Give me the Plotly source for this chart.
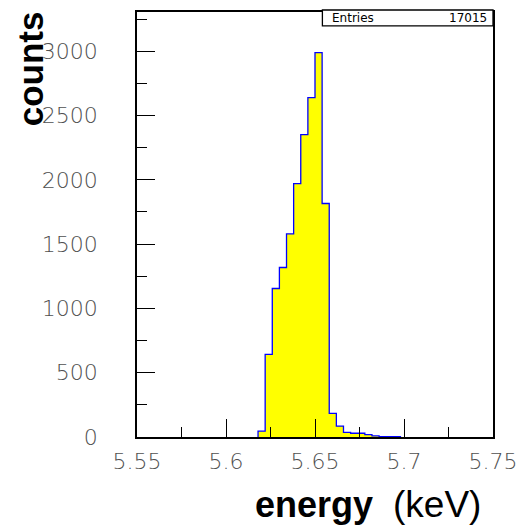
import plotly.graph_objects as go

# Histogram binning (50 bins from 5.55 to 5.75 keV)
bin_start = 5.55
bin_width = 0.004
counts = [0, 0, 0, 0, 0, 0, 0, 0, 0, 0,
          0, 0, 0, 0, 0, 0, 0, 45, 643, 1155,
          1318, 1580, 1971, 2352, 2639, 2989, 1816, 184, 85, 36,
          29, 29, 18, 8, 3, 2, 2, 0, 0, 0,
          0, 0, 0, 0, 0, 0, 0, 0, 0, 0]
entries_label = "Entries"
entries_value = "17015"
x_tickvals = [5.55, 5.6, 5.65, 5.7, 5.75]
x_ticktext = ["5.55", "5.6", "5.65", "5.7", "5.75"]
y_tickvals = [0, 500, 1000, 1500, 2000, 2500, 3000]
y_ticktext = ["0", "500", "1000", "1500", "2000", "2500", "3000"]

edges = [round(bin_start + i * bin_width, 6) for i in range(len(counts) + 1)]
nz = [i for i, c in enumerate(counts) if c > 0]
first, last = nz[0], nz[-1]
xs = [edges[first]] + edges[first:last + 1] + [edges[last + 1]]
ys = [0] + counts[first:last + 1] + [0]

fig = go.Figure()
fig.add_trace(go.Scatter(
    x=xs, y=ys, mode="lines", line=dict(shape="hv", color="#0000ff", width=1.3),
    fill="tozeroy", fillcolor="#ffff00", hoverinfo="skip", showlegend=False))

tick_font = dict(family="DejaVu Sans", size=22, color="#505050", weight=200)

fig.update_layout(
    width=527, height=529,
    margin=dict(l=137, r=29, t=10, b=92),
    paper_bgcolor="white", plot_bgcolor="white",
    showlegend=False,
    xaxis=dict(range=[5.55, 5.75], tickvals=x_tickvals, ticktext=x_ticktext,
               ticks="inside", ticklen=18, tickcolor="black", tickwidth=1,
               minor=dict(ticks="inside", ticklen=10, dtick=0.025, tick0=5.55, tickcolor="black"),
               showline=True, linecolor="black", linewidth=1.5, mirror=True,
               showgrid=False, zeroline=False, tickfont=tick_font, ticklabelstandoff=4,
               layer="above traces"),
    yaxis=dict(range=[0, 3305], tickvals=y_tickvals, ticktext=y_ticktext,
               ticks="inside", ticklen=18, tickcolor="black", tickwidth=1,
               minor=dict(ticks="inside", ticklen=10, dtick=250, tick0=0, tickcolor="black"),
               showline=True, linecolor="black", linewidth=1.5, mirror=True,
               showgrid=False, zeroline=False, tickfont=tick_font, ticklabelstandoff=33,
               layer="above traces"),
)

# Stats box
fig.add_shape(type="rect", xref="paper", yref="paper",
              x0=(325 - 137) / 361, x1=1.0, y0=(437 - 24) / 427, y1=(437 - 8) / 427,
              line=dict(color="black", width=1.3), fillcolor="white", layer="above")
fig.add_annotation(xref="paper", yref="paper", x=(333 - 137) / 361, y=(437 - 16) / 427,
                   xanchor="left", yanchor="middle", showarrow=False, text=entries_label,
                   font=dict(family="DejaVu Sans", size=12, color="black"))
fig.add_annotation(xref="paper", yref="paper", x=(494 - 137) / 361, y=(437 - 16) / 427,
                   xanchor="right", yanchor="middle", showarrow=False, text=entries_value,
                   font=dict(family="DejaVu Sans", size=12, color="black"))

# Axis titles
fig.add_annotation(xref="paper", yref="paper", x=(29 - 137) / 361, y=(437 - 67) / 427,
                   xanchor="center", yanchor="middle", showarrow=False, textangle=-90,
                   text="<b>counts</b>",
                   font=dict(family="Liberation Sans", size=35, color="black"))
fig.add_annotation(xref="paper", yref="paper", x=(255 - 137) / 361, y=(437 - 505) / 427,
                   xanchor="left", yanchor="middle", showarrow=False,
                   text="<b>energy</b>",
                   font=dict(family="Liberation Sans", size=36, color="black"))
fig.add_annotation(xref="paper", yref="paper", x=(395 - 137) / 361, y=(437 - 505) / 427,
                   xanchor="left", yanchor="middle", showarrow=False,
                   text="(keV)",
                   font=dict(family="Liberation Sans", size=37, color="black"))

fig.write_html("out.html")
